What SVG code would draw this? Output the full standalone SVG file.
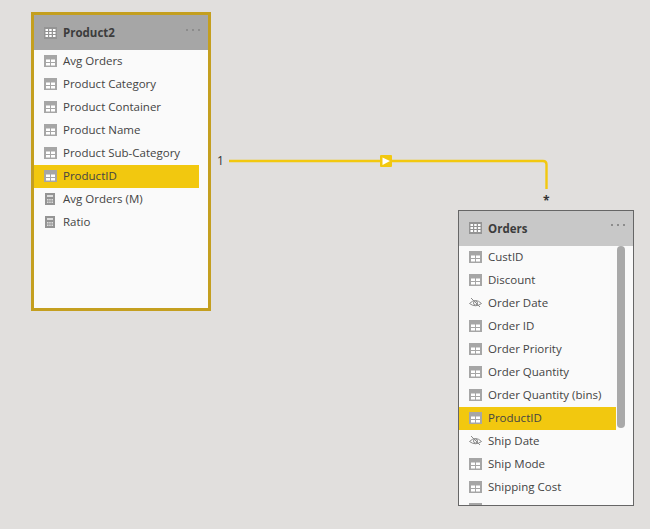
<svg xmlns="http://www.w3.org/2000/svg" width="650" height="529" viewBox="0 0 650 529">
<style>
text{font-family:"Open Sans","Noto Sans","Liberation Sans",sans-serif;font-size:11.5px;fill:#444}
.t{font-weight:700;font-size:11.5px;fill:#3c3c3c}
.body{fill:#fafafa}
.hl{fill:#f2c80f}
.lab{font-size:12px;fill:#333}
</style>
<defs>
<g id="col"><rect x="0" y="0" width="13" height="12" fill="#a6a6a6"/><rect x="2" y="4.500" width="4" height="2.500" fill="#fff"/><rect x="7" y="4.500" width="4" height="2.500" fill="#fff"/><rect x="2" y="8" width="4" height="2.500" fill="#fff"/><rect x="7" y="8" width="4" height="2.500" fill="#fff"/></g>
<g id="tbl"><rect x="0" y="0" width="13" height="12" fill="#949494"/><g fill="#fff"><rect x="1.500" y="2" width="2.500" height="2"/><rect x="5.200" y="2" width="2.500" height="2"/><rect x="9" y="2" width="2.500" height="2"/><rect x="1.500" y="5" width="2.500" height="2"/><rect x="5.200" y="5" width="2.500" height="2"/><rect x="9" y="5" width="2.500" height="2"/><rect x="1.500" y="8" width="2.500" height="2"/><rect x="5.200" y="8" width="2.500" height="2"/><rect x="9" y="8" width="2.500" height="2"/></g></g>
<g id="calc"><rect x="1" y="0" width="10" height="12" fill="#949494"/><rect x="3" y="2" width="6" height="2" fill="#ddd"/><g fill="#ddd"><rect x="3" y="6" width="1.500" height="1.500"/><rect x="5.200" y="6" width="1.500" height="1.500"/><rect x="7.500" y="6" width="1.500" height="1.500"/><rect x="3" y="8.500" width="1.500" height="1.500"/><rect x="5.200" y="8.500" width="1.500" height="1.500"/><rect x="7.500" y="8.500" width="1.500" height="1.500"/></g></g>
<g id="hid" fill="none" stroke="#8a8a8a" stroke-width="1"><path d="M0.500 6.500Q6.500 0.500 12.500 6.500Q6.500 11 0.500 6.500Z"/><circle cx="6.500" cy="6" r="2"/><path d="M2 1L11 10"/></g>
<g id="dots" fill="#8c8c8c"><rect x="0" y="0" width="2" height="2"/><rect x="6" y="0" width="2" height="2"/><rect x="12" y="0" width="2" height="2"/></g>
</defs>
<rect width="650" height="529" fill="#e1dfdd"/>
<g id="connectors">
<path d="M229 161H543Q546.500 161 546.500 164.500V189" fill="none" stroke="#f2c80f" stroke-width="2.400"/>
<rect x="380" y="155" width="12" height="12" rx="1" fill="#f2c80f"/>
<path d="M382.500 157.500L390 161L382.500 165Z" fill="#fff"/>
</g>
<g id="card-1"><text class="lab" x="217" y="165">1</text></g>
<g id="card-many"><text class="lab" x="543" y="205" font-weight="700">*</text></g>
<g id="product2">
<rect x="32.500" y="13.500" width="177" height="296" class="body" stroke="#c49f1f" stroke-width="3"/>
<rect x="34" y="15" width="174" height="35" fill="#a6a6a6"/>
<use href="#tbl" x="44" y="27"/>
<text class="t" x="63" y="37">Product2</text>
<use href="#dots" x="186" y="29"/>
<rect x="34" y="165" width="165" height="23" class="hl"/>
<use href="#col" x="44" y="55"/><text x="63" y="65">Avg Orders</text>
<use href="#col" x="44" y="78"/><text x="63" y="88">Product Category</text>
<use href="#col" x="44" y="101"/><text x="63" y="111">Product Container</text>
<use href="#col" x="44" y="124"/><text x="63" y="134">Product Name</text>
<use href="#col" x="44" y="147"/><text x="63" y="157">Product Sub-Category</text>
<use href="#col" x="44" y="170"/><text x="63" y="180">ProductID</text>
<use href="#calc" x="44" y="193"/><text x="63" y="203">Avg Orders (M)</text>
<use href="#calc" x="44" y="216"/><text x="63" y="226">Ratio</text>
</g>
<g id="orders">
<rect x="458.500" y="210.500" width="175" height="295" class="body" stroke="#666" stroke-width="1"/>
<rect x="459" y="211" width="174" height="35" fill="#c8c8c8"/>
<use href="#tbl" x="469" y="222"/>
<text class="t" x="488" y="233">Orders</text>
<use href="#dots" x="611" y="224"/>
<rect x="459" y="407" width="157" height="23" class="hl"/>
<rect x="617" y="246" width="8" height="182" rx="4" fill="#a9a9a9"/>
<use href="#col" x="469" y="251"/><text x="488" y="261">CustID</text>
<use href="#col" x="469" y="274"/><text x="488" y="284">Discount</text>
<use href="#hid" x="469" y="297"/><text x="488" y="307">Order Date</text>
<use href="#col" x="469" y="320"/><text x="488" y="330">Order ID</text>
<use href="#col" x="469" y="343"/><text x="488" y="353">Order Priority</text>
<use href="#col" x="469" y="366"/><text x="488" y="376">Order Quantity</text>
<use href="#col" x="469" y="389"/><text x="488" y="399">Order Quantity (bins)</text>
<use href="#col" x="469" y="412"/><text x="488" y="422">ProductID</text>
<use href="#hid" x="469" y="435"/><text x="488" y="445">Ship Date</text>
<use href="#col" x="469" y="458"/><text x="488" y="468">Ship Mode</text>
<use href="#col" x="469" y="481"/><text x="488" y="491">Shipping Cost</text>
<rect x="469" y="503" width="13" height="2" fill="#a6a6a6"/>
</g>
</svg>
